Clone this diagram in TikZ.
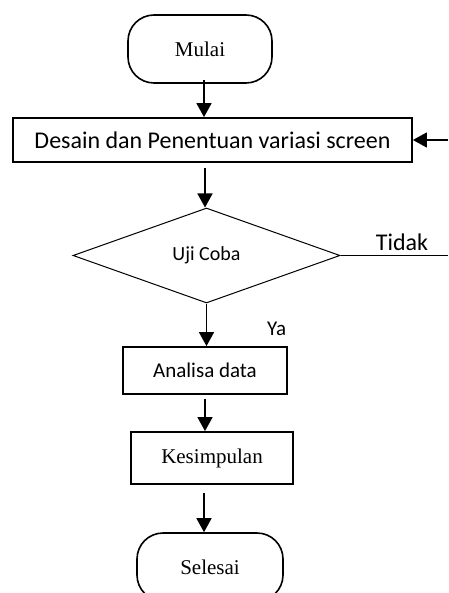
\documentclass[tikz,border=0pt]{standalone}
\usepackage{fontspec}
\setmainfont{Liberation Serif}
\newfontfamily\calfont{Carlito}
\newfontfamily\tmsfont{Liberation Serif}
\usetikzlibrary{shapes.geometric,arrows.meta}
\tikzset{
  terminal/.style={draw,line width=1.6pt,rounded corners=26pt,inner sep=0pt,
    font=\tmsfont\fontsize{21}{25}\selectfont},
  procbox/.style={draw,line width=1.8pt,inner sep=0pt},
  decision/.style={draw,diamond,line width=1pt,inner sep=0pt,
    font=\calfont\fontsize{20}{24}\selectfont},
  flowarrow/.style={line width=1.5pt,-{Triangle[width=15pt,length=14pt]}},
  flowline/.style={line width=1.5pt}
}
\begin{document}
\begin{tikzpicture}[x=1pt,y=-1pt]
\useasboundingbox (0,0) rectangle (448,593);
\clip (0,0) rectangle (448,593);

% start / end terminals
\node[terminal,minimum width=144pt,minimum height=68pt] (mulai) at (200,49) {Mulai};
\node[terminal,minimum width=146pt,minimum height=68pt] (selesai) at (210,567) {Selesai};

% process steps
\node[procbox,minimum width=399pt,minimum height=44pt,
  font=\calfont\fontsize{24}{28}\selectfont] (desain) at (212.5,140)
  {Desain dan Penentuan variasi screen};
\node[decision,minimum width=267pt,minimum height=95pt] (uji) at (206.5,255.5) {Uji Coba};
\node[procbox,minimum width=164pt,minimum height=47pt,
  font=\calfont\fontsize{21}{25}\selectfont] (analisa) at (205,370.5) {Analisa data};
\node[procbox,minimum width=162pt,minimum height=52pt,
  font=\tmsfont\fontsize{21}{25}\selectfont] (kesimpulan) at (212,458) {Kesimpulan};

% main flow
\draw[flowarrow] (204,80) -- (desain.north -| 204,0);
\draw[flowarrow] (desain.south -| 205,0) ++(0,5) -- (uji.north -| 205,0);
\draw[flowarrow] (uji.south) -- (analisa.north -| 206.5,0);
\draw[flowarrow] (analisa.south -| 205,0) ++(0,4) -- (kesimpulan.north -| 205,0);
\draw[flowarrow] (kesimpulan.south -| 204,0) ++(0,8) -- (selesai.north -| 204,0);

% branch labels
\node[anchor=base west,inner sep=0pt,font=\calfont\fontsize{21}{25}\selectfont] (ya) at (267,335) {Ya};

% "Tidak" branch back to the design step
\coordinate (tidakend) at (448,255.5);
\coordinate (loopin) at (448,140);
\draw[flowline] (uji.east) -- (tidakend);
\node[anchor=base,inner sep=0pt,font=\calfont\fontsize{24}{28}\selectfont] (tidak) at (402,251) {Tidak};
\draw[flowarrow] (loopin) -- (desain.east);
\end{tikzpicture}
\end{document}
